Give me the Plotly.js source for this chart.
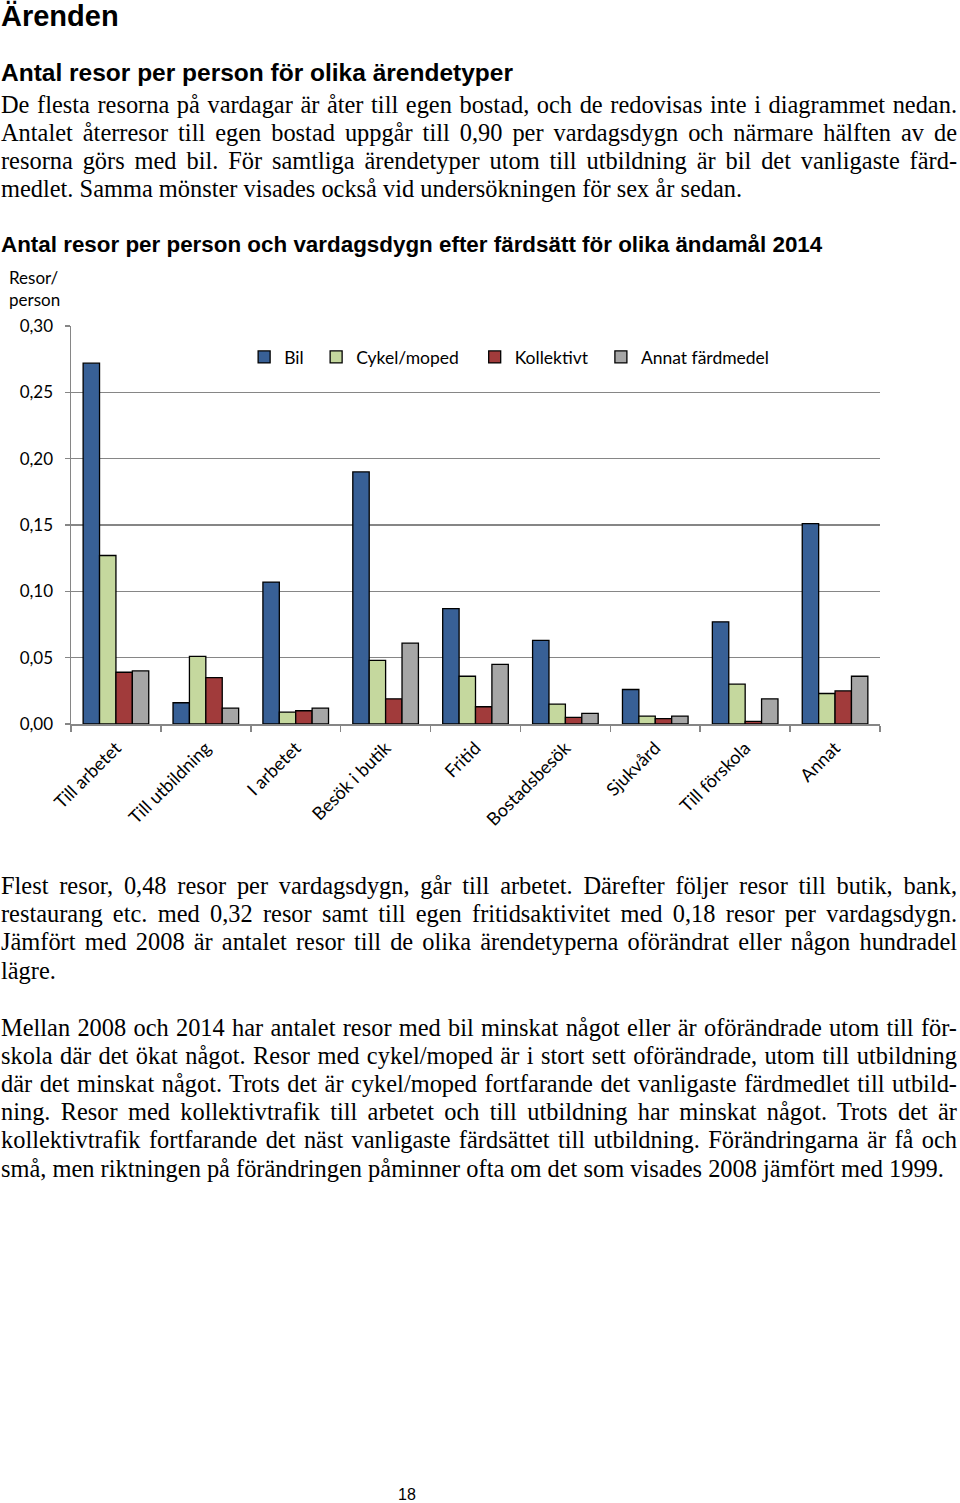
<!DOCTYPE html>
<html>
<head>
<meta charset="utf-8">
<script src="https://cdn.plot.ly/plotly-3.0.1.min.js"></script>
<style>
  html, body { margin:0; padding:0; background:#fff; }
  body { width:960px; height:1503px; position:relative; overflow:hidden; }
  .h1 { position:absolute; left:1px; font-family:"Liberation Sans", Arial, sans-serif; font-weight:bold; font-size:29px; color:#000; }
  .h2 { position:absolute; left:1px; font-family:"Liberation Sans", Arial, sans-serif; font-weight:bold; font-size:24.5px; color:#000; }
  .h3 { position:absolute; left:1px; font-family:"Liberation Sans", Arial, sans-serif; font-weight:bold; font-size:22.4px; color:#000; }
  .ln { position:absolute; left:1px; width:956px; font-family:"Liberation Serif", "Times New Roman", serif; font-size:24.4px; line-height:28px; color:#000; white-space:nowrap; }
  .j { text-align:justify; text-align-last:justify; white-space:normal; }
  .pg { position:absolute; left:398px; top:1486px; font-family:"Liberation Sans", Arial, sans-serif; font-size:16px; }
  #chart { position:absolute; left:0; top:262px; width:900px; height:580px; }
</style>
</head>
<body>
<div class="h1" style="top:0px">Ärenden</div>
<div class="h2" style="top:59px">Antal resor per person för olika ärendetyper</div>
<div class="ln j" style="top:91px">De flesta resorna på vardagar är åter till egen bostad, och de redovisas inte i diagrammet nedan.</div>
<div class="ln j" style="top:119px">Antalet återresor till egen bostad uppgår till 0,90 per vardagsdygn och närmare hälften av de</div>
<div class="ln j" style="top:147px">resorna görs med bil. För samtliga ärendetyper utom till utbildning är bil det vanligaste färd-</div>
<div class="ln" style="top:175px">medlet. Samma mönster visades också vid undersökningen för sex år sedan.</div>
<div class="h3" style="top:232px">Antal resor per person och vardagsdygn efter färdsätt för olika ändamål 2014</div>

<div id="chart"></div>

<div class="ln j" style="top:872px">Flest resor, 0,48 resor per vardagsdygn, går till arbetet. Därefter följer resor till butik, bank,</div>
<div class="ln j" style="top:900px">restaurang etc. med 0,32 resor samt till egen fritidsaktivitet med 0,18 resor per vardagsdygn.</div>
<div class="ln j" style="top:928px">Jämfört med 2008 är antalet resor till de olika ärendetyperna oförändrat eller någon hundradel</div>
<div class="ln" style="top:957px">lägre.</div>

<div class="ln j" style="top:1014px">Mellan 2008 och 2014 har antalet resor med bil minskat något eller är oförändrade utom till för-</div>
<div class="ln j" style="top:1042px">skola där det ökat något. Resor med cykel/moped är i stort sett oförändrade, utom till utbildning</div>
<div class="ln j" style="top:1070px">där det minskat något. Trots det är cykel/moped fortfarande det vanligaste färdmedlet till utbild-</div>
<div class="ln j" style="top:1098px">ning. Resor med kollektivtrafik till arbetet och till utbildning har minskat något. Trots det är</div>
<div class="ln j" style="top:1126px">kollektivtrafik fortfarande det näst vanligaste färdsättet till utbildning. Förändringarna är få och</div>
<div class="ln" style="top:1155px">små, men riktningen på förändringen påminner ofta om det som visades 2008 jämfört med 1999.</div>

<div class="pg">18</div>

<script>
const categories = ["Till arbetet","Till utbildning","I arbetet","Besök i butik","Fritid","Bostadsbesök","Sjukvård","Till förskola","Annat"];
const bil        = [0.272, 0.016, 0.107, 0.190, 0.087, 0.063, 0.026, 0.077, 0.151];
const cykelMoped = [0.127, 0.051, 0.009, 0.048, 0.036, 0.015, 0.006, 0.030, 0.023];
const kollektivt = [0.039, 0.035, 0.010, 0.019, 0.013, 0.005, 0.004, 0.002, 0.025];
const annat      = [0.040, 0.012, 0.012, 0.061, 0.045, 0.008, 0.006, 0.019, 0.036];
const seriesNames = ["Bil","Cykel/moped","Kollektivt","Annat färdmedel"];
const yTicks = [0, 0.05, 0.10, 0.15, 0.20, 0.25, 0.30];

const colors = ["#386096","#C5D89E","#A13B3B","#A6A6A6"];
const data = [bil, cykelMoped, kollektivt, annat].map((vals, i) => ({
  type: "bar",
  name: seriesNames[i],
  x: categories,
  y: vals,
  marker: { color: colors[i], line: { color: "#000", width: 1.3 } },
  legend: i === 0 ? "legend" : "legend" + (i + 1),
  showlegend: true,
  hoverinfo: "x+y+name"
}));

const legendBase = {
  visible: true,
  orientation: "h", yanchor: "middle", xanchor: "left", y: 0.922,
  bgcolor: "rgba(0,0,0,0)", borderwidth: 0,
  font: { family: "Lato, 'Open Sans', sans-serif", size: 17.5, color: "#000" },
  itemwidth: 30
};
const legendX = [0.214, 0.303, 0.499, 0.655];

const layout = {
  width: 900, height: 580,
  showlegend: true,
  margin: { l: 71, r: 20, t: 64, b: 118 },
  paper_bgcolor: "#fff", plot_bgcolor: "#fff",
  separators: ",.",
  barmode: "group", bargap: 0.27, bargroupgap: 0,
  font: { family: "Lato, 'Open Sans', sans-serif", size: 16, color: "#000" },
  xaxis: {
    type: "category",
    showline: true, linecolor: "#868686", linewidth: 1.5,
    ticks: "outside", tickson: "boundaries", ticklen: 6, tickcolor: "#868686", tickwidth: 1.5,
    tickangle: -45, tickfont: { size: 18, family: "Lato, 'Open Sans', sans-serif", color: "#000" },
    ticklabelstandoff: 5,
    showgrid: false
  },
  yaxis: {
    range: [0, 0.30], tickvals: yTicks, tickformat: ".2f",
    showline: true, linecolor: "#868686", linewidth: 1.5,
    ticks: "outside", ticklen: 5, tickcolor: "#868686", tickwidth: 1.5,
    showgrid: true, gridcolor: "#868686", gridwidth: 1.5,
    zeroline: false,
    tickfont: { size: 17, family: "Lato, 'Open Sans', sans-serif", color: "#000" },
    ticklabelstandoff: 8
  },
  legend: Object.assign({}, legendBase, { x: legendX[0] }),
  legend2: Object.assign({}, legendBase, { x: legendX[1] }),
  legend3: Object.assign({}, legendBase, { x: legendX[2] }),
  legend4: Object.assign({}, legendBase, { x: legendX[3] }),
  annotations: [{
    text: "Resor/<br>person", xref: "paper", yref: "paper", x: 0, y: 1,
    xanchor: "left", yanchor: "bottom", align: "left", showarrow: false,
    xshift: -64, yshift: 14,
    font: { size: 17, family: "Lato, 'Open Sans', sans-serif", color: "#000" }
  }]
};

Plotly.newPlot("chart", data, layout, { displayModeBar: false, staticPlot: true });
</script>
</body>
</html>
